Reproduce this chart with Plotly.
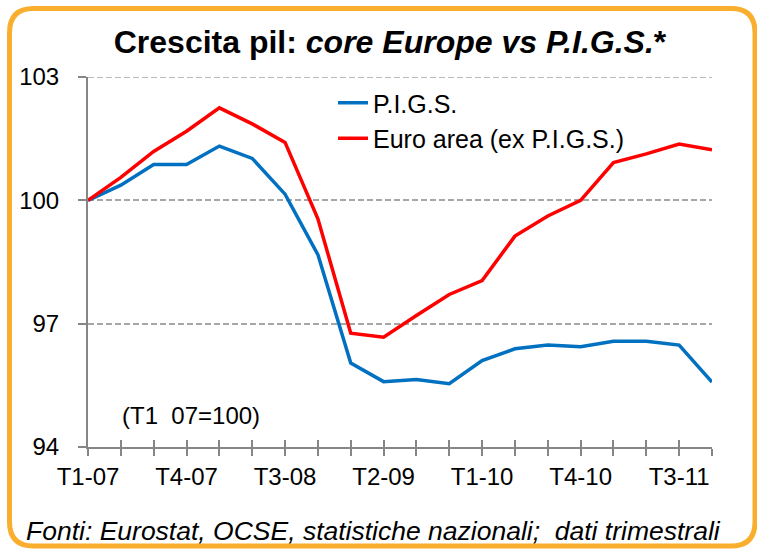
import plotly.graph_objects as go

quarters = ["T1-07", "T2-07", "T3-07", "T4-07",
            "T1-08", "T2-08", "T3-08", "T4-08",
            "T1-09", "T2-09", "T3-09", "T4-09",
            "T1-10", "T2-10", "T3-10", "T4-10",
            "T1-11", "T2-11", "T3-11", "T4-11"]
pigs = [100.0, 100.37, 100.87, 100.87, 101.32, 101.02, 100.15, 98.68, 96.04, 95.59,
        95.64, 95.54, 96.10, 96.39, 96.48, 96.44, 96.57, 96.57, 96.48, 95.58]
euro_ex_pigs = [100.0, 100.56, 101.19, 101.68, 102.25, 101.86, 101.41, 99.55, 96.77, 96.67,
                97.20, 97.71, 98.05, 99.13, 99.62, 100.0, 100.92, 101.13, 101.37, 101.23]
tick_labels = [q if i % 3 == 0 else "" for i, q in enumerate(quarters)]
y_ticks = [94, 97, 100, 103]

FONT = "Liberation Sans, Arial, sans-serif"
W, H = 757, 549
L, R, T, B = 88, 45, 77, 102
PW, PH = W - L - R, H - T - B
GRID = dict(color="#A6A6A6", width=1.5, dash="6px,3px")

def px(x):
    return (x - L) / PW

def py(y):
    return (H - B - y) / PH

fig = go.Figure()
fig.add_trace(go.Scatter(x=quarters, y=pigs, mode="lines", name="P.I.G.S.",
                         line=dict(color="#0070C0", width=3.5)))
fig.add_trace(go.Scatter(x=quarters, y=euro_ex_pigs, mode="lines", name="Euro area (ex P.I.G.S.)",
                         line=dict(color="#FF0000", width=3.5)))
# invisible helper trace so the overlay axis (inner half of crossing ticks) is drawn
fig.add_trace(go.Scatter(x=list(range(len(quarters))), y=pigs, xaxis="x2", mode="lines",
                         line=dict(width=0, color="rgba(0,0,0,0)"), showlegend=False,
                         hoverinfo="skip"))

# top gridline (plotly skips the grid line lying on the plot edge)
fig.add_shape(type="line", xref="paper", yref="y", x0=0, x1=1, y0=y_ticks[-1], y1=y_ticks[-1],
              line=GRID, layer="below")

# rounded orange frame (pixel -> paper)
x0, y0, x1, y1, r = 9.5, 8.5, 755, 546, 24
path = (f"M {px(x0 + r)},{py(y0)} L {px(x1 - r)},{py(y0)} Q {px(x1)},{py(y0)} {px(x1)},{py(y0 + r)} "
        f"L {px(x1)},{py(y1 - r)} Q {px(x1)},{py(y1)} {px(x1 - r)},{py(y1)} "
        f"L {px(x0 + r)},{py(y1)} Q {px(x0)},{py(y1)} {px(x0)},{py(y1 - r)} "
        f"L {px(x0)},{py(y0 + r)} Q {px(x0)},{py(y0)} {px(x0 + r)},{py(y0)} Z")
fig.add_shape(type="path", path=path, xref="paper", yref="paper",
              line=dict(color="#FAAE2E", width=5), layer="above")

fig.update_layout(
    width=W, height=H,
    margin=dict(l=L, r=R, t=T, b=B),
    paper_bgcolor="white", plot_bgcolor="white",
    font=dict(family=FONT, color="black", size=24),
    title=dict(text="<b>Crescita pil: <i>core Europe vs P.I.G.S.</i>*</b>",
               x=390 / W, xanchor="center", xref="container",
               y=1 - 42 / H, yanchor="middle", yref="container",
               font=dict(size=32, family=FONT, color="black")),
    showlegend=True,
    legend=dict(x=px(333), y=py(80), xanchor="left", yanchor="top",
                bgcolor="rgba(0,0,0,0)", font=dict(size=25, family=FONT),
                traceorder="normal", itemwidth=30),
    xaxis=dict(type="category", range=[0, 19], tickmode="array",
               tickvals=quarters, ticktext=tick_labels,
               ticks="outside", ticklen=7, tickwidth=1.5, tickcolor="#868686",
               showline=True, linecolor="#868686", linewidth=2,
               showgrid=False, zeroline=False,
               tickfont=dict(size=24, family=FONT, color="black")),
    xaxis2=dict(type="linear", range=[0, 19], overlaying="x", anchor="y", side="bottom",
                tickmode="array", tickvals=list(range(len(quarters))),
                ticks="inside", ticklen=7, tickwidth=1.5, tickcolor="#868686",
                showticklabels=False, showline=False, showgrid=False, zeroline=False),
    yaxis=dict(range=[94, 103], tickmode="array", tickvals=y_ticks,
               ticks="outside", ticklen=8, tickwidth=1.5, tickcolor="#868686",
               ticklabelstandoff=14,
               showline=True, linecolor="#868686", linewidth=2,
               showgrid=True, gridcolor=GRID["color"], gridwidth=GRID["width"],
               griddash=GRID["dash"], zeroline=False,
               tickfont=dict(size=24, family=FONT, color="black")),
    annotations=[
        dict(text="(T1\u00a0 07=100)", x=px(191), y=py(415), xref="paper", yref="paper",
             xanchor="center", yanchor="middle", showarrow=False,
             font=dict(size=24, family=FONT, color="black")),
        dict(text="<i>Fonti: Eurostat, OCSE, statistiche nazionali;\u00a0 dati trimestrali</i>",
             x=px(24), y=py(531), xref="paper", yref="paper",
             xanchor="left", yanchor="middle", showarrow=False,
             font=dict(size=26.5, family=FONT, color="black")),
    ],
)

fig.write_html("out.html", config={"displayModeBar": False},
               post_script="document.body.style.margin='0';document.body.style.overflow='hidden';")
